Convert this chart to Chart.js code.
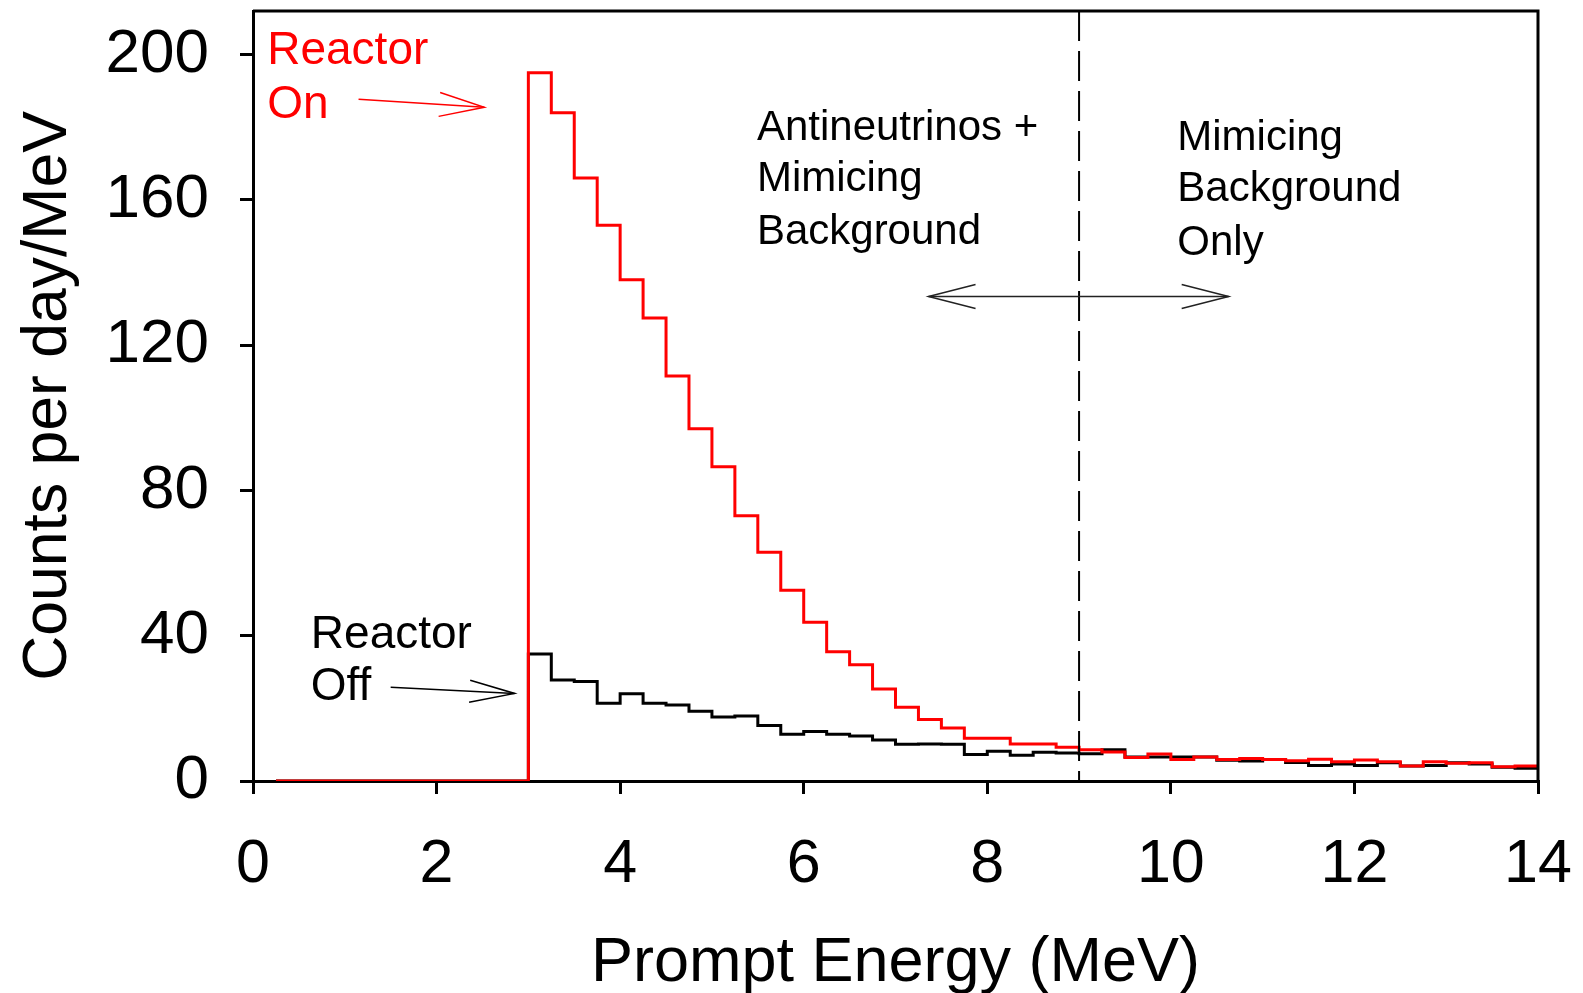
<!DOCTYPE html>
<html><head><meta charset="utf-8">
<script src="https://cdn.jsdelivr.net/npm/chart.js@4.4.1/dist/chart.umd.min.js"></script>
<style>html,body{margin:0;padding:0;background:#fff;}#wrap{width:1583px;height:993px;}</style>
</head><body><div id="wrap"><canvas id="c" width="1583" height="993"></canvas></div>
<script>
// Lower edges of the 0.25 MeV bins (MeV)
const binStarts = [0.25,0.5,0.75,1.0,1.25,1.5,1.75,2.0,2.25,2.5,2.75,
  3.0,3.25,3.5,3.75,4.0,4.25,4.5,4.75,5.0,5.25,5.5,5.75,6.0,6.25,6.5,6.75,
  7.0,7.25,7.5,7.75,8.0,8.25,8.5,8.75,9.0,9.25,9.5,9.75,10.0,10.25,10.5,10.75,
  11.0,11.25,11.5,11.75,12.0,12.25,12.5,12.75,13.0,13.25,13.5,13.75];
const lastEdge = 14;
// Counts per day per MeV
const reactorOn = [0,0,0,0,0,0,0,0,0,0,0,
  195,184,166,153,138,127.5,111.5,97,86.5,73,63,52.5,43.7,35.6,32,25.3,
  20.3,16.9,14.6,11.8,11.8,10.2,10.2,9.3,8.6,8.0,6.5,7.4,5.9,6.6,5.9,6.2,
  5.9,5.6,6.0,5.3,5.8,5.3,4.1,5.3,4.9,5.0,3.9,4.1];
const reactorOff = [0,0,0,0,0,0,0,0,0,0,0,
  35,27.8,27.4,21.4,24.0,21.4,20.9,19.2,17.6,17.9,15.3,12.9,13.6,12.9,12.4,11.3,
  10.1,10.2,10.1,7.3,8.2,7.1,7.9,7.7,7.5,8.6,6.6,6.6,6.6,6.6,5.7,5.5,
  5.9,5.1,4.3,4.7,4.3,5.0,4.1,4.3,5.0,4.7,3.8,3.5];
const xTicks = [0,2,4,6,8,10,12,14];
const yTicks = [0,40,80,120,160,200];
const splitEnergy = 9;

function histPoints(vals){
  const pts = binStarts.map((x,i)=>({x:x, y:vals[i]}));
  pts.push({x:lastEdge, y:vals[vals.length-1]});
  return pts;
}

const FONT = '"Liberation Sans", Arial, sans-serif';

function arrowHead(ctx, x1, y1, x2, y2, len, half){
  const a = Math.atan2(y2-y1, x2-x1);
  const cx = Math.cos(a), sx = Math.sin(a);
  ctx.beginPath();
  ctx.moveTo(x2 - len*cx - half*(-sx), y2 - len*sx - half*cx);
  ctx.lineTo(x2, y2);
  ctx.lineTo(x2 - len*cx + half*(-sx), y2 - len*sx + half*cx);
  ctx.stroke();
}

const annot = {
  id:'annot',
  afterDraw(chart){
    const ctx = chart.ctx, xs = chart.scales.x, ys = chart.scales.y, ca = chart.chartArea;
    const X = v => xs.getPixelForValue(v), Y = v => ys.getPixelForValue(v);
    ctx.save();
    ctx.strokeStyle = '#000'; ctx.lineWidth = 3;
    ctx.beginPath();
    ctx.moveTo(ca.left, ca.top); ctx.lineTo(ca.right, ca.top); ctx.lineTo(ca.right, ca.bottom);
    ctx.stroke();
    ctx.lineWidth = 2; ctx.setLineDash([30,10]);
    ctx.beginPath(); ctx.moveTo(X(splitEnergy), ca.top); ctx.lineTo(X(splitEnergy), ca.bottom); ctx.stroke();
    ctx.setLineDash([]);
    ctx.textBaseline = 'middle'; ctx.textAlign = 'left';
    ctx.fillStyle = '#ff0000'; ctx.font = '46px ' + FONT;
    ctx.fillText('Reactor', X(0.155), Y(200.8));
    ctx.fillText('On', X(0.155), Y(186));
    ctx.fillStyle = '#000';
    ctx.fillText('Reactor', X(0.63), Y(40.2));
    ctx.fillText('Off', X(0.63), Y(25.8));
    ctx.font = '42px ' + FONT;
    ctx.fillText('Antineutrinos +', X(5.49), Y(179.7));
    ctx.fillText('Mimicing', X(5.49), Y(165.6));
    ctx.fillText('Background', X(5.49), Y(151.1));
    ctx.fillText('Mimicing', X(10.07), Y(176.9));
    ctx.fillText('Background', X(10.07), Y(162.8));
    ctx.fillText('Only', X(10.07), Y(148.1));
    ctx.lineWidth = 1.5;
    ctx.strokeStyle = '#ff0000';
    let a = [X(1.15), Y(187.7), X(2.52), Y(185.5)];
    ctx.beginPath(); ctx.moveTo(a[0],a[1]); ctx.lineTo(a[2],a[3]); ctx.stroke();
    arrowHead(ctx, a[0],a[1],a[2],a[3], 45, 12);
    ctx.strokeStyle = '#000';
    a = [X(1.50), Y(25.8), X(2.85), Y(24.1)];
    ctx.beginPath(); ctx.moveTo(a[0],a[1]); ctx.lineTo(a[2],a[3]); ctx.stroke();
    arrowHead(ctx, a[0],a[1],a[2],a[3], 45, 11);
    ctx.strokeStyle = '#222';
    a = [X(7.36), Y(133.4), X(10.63), Y(133.4)];
    ctx.beginPath(); ctx.moveTo(a[0],a[1]); ctx.lineTo(a[2],a[3]); ctx.stroke();
    arrowHead(ctx, a[0],a[1],a[2],a[3], 47, 12);
    arrowHead(ctx, a[2],a[3],a[0],a[1], 47, 12);
    ctx.restore();
  }
};

new Chart(document.getElementById('c'), {
  type:'line',
  data:{ datasets:[
    {label:'Reactor On', data:histPoints(reactorOn), borderColor:'#ff0000', borderWidth:3, stepped:'before', pointRadius:0, fill:false, order:0},
    {label:'Reactor Off', data:histPoints(reactorOff), borderColor:'#000000', borderWidth:3, stepped:'before', pointRadius:0, fill:false, order:1}
  ]},
  options:{
    responsive:false, animation:false, devicePixelRatio:1,
    layout:{padding:{top:11, right:45, left:0, bottom:0}},
    plugins:{legend:{display:false}, tooltip:{enabled:false}},
    scales:{
      x:{type:'linear', min:0, max:14,
        afterBuildTicks: s => { s.ticks = xTicks.map(v=>({value:v})); },
        afterFit: s => { s.height = 212; s.paddingLeft = 0; s.paddingRight = 0; },
        ticks:{font:{family:FONT, size:61, lineHeight:1}, color:'#000', padding:41, maxRotation:0, autoSkip:false},
        grid:{drawOnChartArea:false, drawTicks:true, tickLength:13, tickWidth:3, tickColor:'#000', color:'#000', lineWidth:3},
        border:{display:true, color:'#000', width:3},
        title:{display:true, text:'Prompt Energy (MeV)', color:'#000', font:{family:FONT, size:63, lineHeight:1}, padding:{top:0,bottom:-2}}
      },
      y:{type:'linear', min:0, max:212,
        afterBuildTicks: s => { s.ticks = yTicks.map(v=>({value:v})); },
        afterFit: s => { s.width = 253; s.paddingTop = 0; s.paddingBottom = 0; },
        ticks:{font:{family:FONT, size:62, lineHeight:1}, color:'#000', padding:31, autoSkip:false},
        grid:{drawOnChartArea:false, drawTicks:true, tickLength:13, tickWidth:3, tickColor:'#000', color:'#000', lineWidth:3},
        border:{display:true, color:'#000', width:3},
        title:{display:true, text:'Counts per day/MeV', color:'#000', font:{family:FONT, size:62.5, lineHeight:1}, padding:{top:18,bottom:0}}
      }
    }
  },
  plugins:[annot]
});
</script></body></html>
